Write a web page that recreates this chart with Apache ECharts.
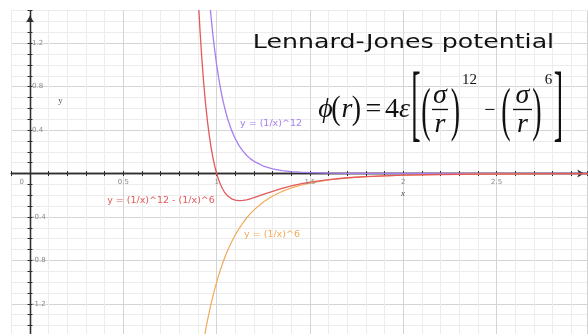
<!DOCTYPE html>
<html>
<head>
<meta charset="utf-8">
<script src="https://cdn.jsdelivr.net/npm/echarts@6/dist/echarts.min.js"></script>
<style>
  html, body { margin: 0; padding: 0; background: #fff; }
  #chart { width: 588px; height: 334px; }
</style>
</head>
<body>
<div id="chart"></div>
<script>
// Sample positions r (in units of sigma)
const rValues = [0.86, 0.88, 0.89, 0.9, 0.91, 0.92, 0.93, 0.94, 0.95, 0.96, 0.97, 0.98, 0.99, 1.0,
  1.01, 1.02, 1.03, 1.04, 1.05, 1.06, 1.08, 1.1, 1.12, 1.14, 1.16, 1.18, 1.2, 1.25, 1.3, 1.35,
  1.4, 1.45, 1.5, 1.6, 1.7, 1.8, 1.9, 2.0, 2.2, 2.4, 2.6, 2.8, 3.0];

// Repulsive term (1/x)^12
const repulsive = [6.109, 4.637, 4.049, 3.541, 3.101, 2.720, 2.389, 2.101, 1.851, 1.632, 1.441, 1.274, 1.128, 1.000,
  0.887, 0.788, 0.701, 0.625, 0.557, 0.497, 0.397, 0.319, 0.257, 0.208, 0.168, 0.137, 0.112, 0.069, 0.043, 0.027,
  0.018, 0.012, 0.008, 0.004, 0.002, 0.001, 0.0005, 0.0002, 0.0001, 0, 0, 0, 0];

// Attractive term, drawn as -(1/x)^6
const attractive = [-2.472, -2.153, -2.012, -1.882, -1.761, -1.649, -1.546, -1.450, -1.360, -1.278, -1.201, -1.129, -1.062, -1.000,
  -0.942, -0.888, -0.837, -0.790, -0.746, -0.705, -0.630, -0.564, -0.507, -0.456, -0.410, -0.370, -0.335, -0.262, -0.207, -0.165,
  -0.133, -0.108, -0.088, -0.060, -0.041, -0.029, -0.021, -0.016, -0.009, -0.005, -0.003, -0.002, -0.001];

// Total potential (1/x)^12 - (1/x)^6
const potential = [3.637, 2.483, 2.037, 1.659, 1.340, 1.071, 0.843, 0.652, 0.490, 0.355, 0.241, 0.146, 0.066, 0,
  -0.055, -0.099, -0.136, -0.166, -0.189, -0.208, -0.233, -0.246, -0.250, -0.248, -0.242, -0.233, -0.223, -0.193, -0.164, -0.138,
  -0.115, -0.096, -0.080, -0.056, -0.039, -0.028, -0.021, -0.015, -0.009, -0.005, -0.003, -0.002, -0.001];

// Labelled tick values along each axis
const xTickValues = [0.5, 1, 1.5, 2, 2.5];
const yTickValues = [-1.2, -0.8, -0.4, 0.4, 0.8, 1.2];

const curveLabels = {
  repulsive: 'y = (1/x)^12',
  potential: 'y = (1/x)^12 - (1/x)^6',
  attractive: 'y = (1/x)^6'
};

const COLORS = { repulsive: '#a67ff0', potential: '#e25a5a', attractive: '#f1aa58' };
const AXIS = '#2e2e2e';
const MINOR = '#ececec';
const MAJOR = '#d4d4d4';
const TICK_TEXT = '#8a8a8a';

const SERIF = '"Liberation Serif", serif';
const SANS = '"DejaVu Sans", sans-serif';

const pairs = ys => rValues.map((x, i) => [x, ys[i]]);
const fmtTick = v => String(Math.round(v * 10) / 10);

function txt(text, x, y, font, fill, opts) {
  opts = opts || {};
  return {
    type: 'text', x: x, y: y, z: 100,
    scaleX: opts.sx || 1, scaleY: opts.sy || 1,
    style: {
      text: text, font: font, fill: fill,
      align: opts.align || 'center', textAlign: opts.align || 'center',
      verticalAlign: 'middle', textVerticalAlign: 'middle'
    }
  };
}
function bar(x1, x2, y) {
  return { type: 'line', z: 100, shape: { x1: x1, y1: y, x2: x2, y2: y }, style: { stroke: '#111', lineWidth: 1.3 } };
}

const chart = echarts.init(document.getElementById('chart'), null, { renderer: 'canvas' });

const tickStyle = { show: true, length: 2.5, lineStyle: { color: AXIS, width: 1 } };

chart.setOption({
  backgroundColor: '#ffffff',
  animation: false,
  grid: { left: 11.33, right: 0.8, top: 10.6, bottom: -2.4, containLabel: false, outerBoundsMode: 'none' },
  xAxis: [
    {
      type: 'value', min: -0.1, max: 2.985, interval: 0.1, position: 'bottom',
      axisLine: { onZero: true, symbol: ['none', 'arrow'], symbolSize: [6, 7], symbolOffset: [0, -3],
        lineStyle: { color: AXIS, width: 1.3 } },
      axisTick: tickStyle,
      splitLine: { show: true, lineStyle: { color: [MINOR, MAJOR, MINOR, MINOR, MINOR], width: 1 } },
      axisLabel: { show: false }
    },
    {
      type: 'value', min: -0.1, max: 2.985, interval: 0.1, position: 'top',
      axisLine: { onZero: true, lineStyle: { color: AXIS, width: 1.3 } },
      axisTick: tickStyle, splitLine: { show: false }, axisLabel: { show: false }
    }
  ],
  yAxis: [
    {
      type: 'value', min: -1.5, max: 1.5, interval: 0.1, position: 'left',
      axisLine: { onZero: true, symbol: ['none', 'arrow'], symbolSize: [6, 7], symbolOffset: [0, -5],
        lineStyle: { color: AXIS, width: 1.3 } },
      axisTick: tickStyle,
      splitLine: { show: true, lineStyle: { color: [MINOR, MINOR, MINOR, MAJOR], width: 1 } },
      axisLabel: { show: false }
    },
    {
      type: 'value', min: -1.5, max: 1.5, interval: 0.1, position: 'right',
      axisLine: { onZero: true, lineStyle: { color: AXIS, width: 1.3 } },
      axisTick: tickStyle, splitLine: { show: false }, axisLabel: { show: false }
    }
  ],
  series: [
    { name: curveLabels.repulsive, type: 'line', data: pairs(repulsive), showSymbol: false, clip: true,
      z: 5, lineStyle: { color: COLORS.repulsive, width: 1.3 } },
    { name: curveLabels.attractive, type: 'line', data: pairs(attractive), showSymbol: false, clip: true,
      z: 5, lineStyle: { color: COLORS.attractive, width: 1.2 } },
    { name: curveLabels.potential, type: 'line', data: pairs(potential), showSymbol: false, clip: true,
      z: 6, lineStyle: { color: COLORS.potential, width: 1.3 } }
  ]
});

// Tick labels on the axes through the origin, placed with the grid's own coordinate mapping
const toPx = (x, y) => chart.convertToPixel({ xAxisIndex: 0, yAxisIndex: 0 }, [x, y]);
const TICK_FONT = '7px ' + SANS;
const tickLabels = [];
xTickValues.forEach(v => {
  const p = toPx(v, 0);
  tickLabels.push(txt(fmtTick(v), p[0], p[1] + 9, TICK_FONT, TICK_TEXT));
});
yTickValues.forEach(v => {
  const p = toPx(0, v);
  tickLabels.push(txt(fmtTick(v), p[0] + 2, p[1], TICK_FONT, TICK_TEXT, { align: 'left' }));
});
const origin = toPx(0, 0);
tickLabels.push(txt('0', origin[0] - 8.3, origin[1] + 9, TICK_FONT, TICK_TEXT));

chart.setOption({
  graphic: tickLabels.concat([
    // axis names
    txt('y', 60.5, 101, '9px ' + SERIF, '#555'),
    txt('x', 403, 193.5, 'italic 9px ' + SERIF, '#555'),

    // curve labels
    txt(curveLabels.repulsive, 271, 124, '9.5px ' + SANS, COLORS.repulsive),
    txt(curveLabels.potential, 161, 201, '9.5px ' + SANS, COLORS.potential),
    txt(curveLabels.attractive, 272, 234.5, '9.5px ' + SANS, COLORS.attractive),

    // heading
    txt('Lennard-Jones potential', 403.5, 43.5, '19px ' + SANS, '#111', { sx: 1.33 }),

    // phi(r) = 4 eps [ (sigma/r)^12 - (sigma/r)^6 ]
    txt('\u03d5', 325.5, 110, 'italic 28px ' + SERIF, '#111'),
    txt('(', 336, 110, '28px ' + SERIF, '#111', { sy: 1.2 }),
    txt('r', 347, 110, 'italic 28px ' + SERIF, '#111'),
    txt(')', 356.5, 110, '28px ' + SERIF, '#111', { sy: 1.2 }),
    txt('=', 373.5, 110, '28px ' + SERIF, '#111'),
    txt('4', 392, 110, '28px ' + SERIF, '#111'),
    txt('\u03b5', 404.5, 110, 'italic 28px ' + SERIF, '#111'),

    txt('[', 416, 109, '28px ' + SERIF, '#111', { sy: 3.0 }),
    txt('(', 426, 114, '28px ' + SERIF, '#111', { sy: 2.1 }),
    txt('\u03c3', 440, 96, 'italic 28px ' + SERIF, '#111'),
    bar(432, 448, 109.5),
    txt('r', 440, 125, 'italic 28px ' + SERIF, '#111'),
    txt(')', 455.5, 114, '28px ' + SERIF, '#111', { sy: 2.1 }),
    txt('12', 469.5, 80, '15px ' + SERIF, '#111'),
    txt('\u2212', 490, 111, '20px ' + SERIF, '#111'),
    txt('(', 506, 114, '28px ' + SERIF, '#111', { sy: 2.1 }),
    txt('\u03c3', 522.5, 96, 'italic 28px ' + SERIF, '#111'),
    bar(513, 532, 109.5),
    txt('r', 522.5, 125, 'italic 28px ' + SERIF, '#111'),
    txt(')', 537, 114, '28px ' + SERIF, '#111', { sy: 2.1 }),
    txt('6', 548.5, 80.5, '15px ' + SERIF, '#111'),
    txt(']', 558.5, 109, '28px ' + SERIF, '#111', { sy: 3.0 })
  ])
});
</script>
</body>
</html>
